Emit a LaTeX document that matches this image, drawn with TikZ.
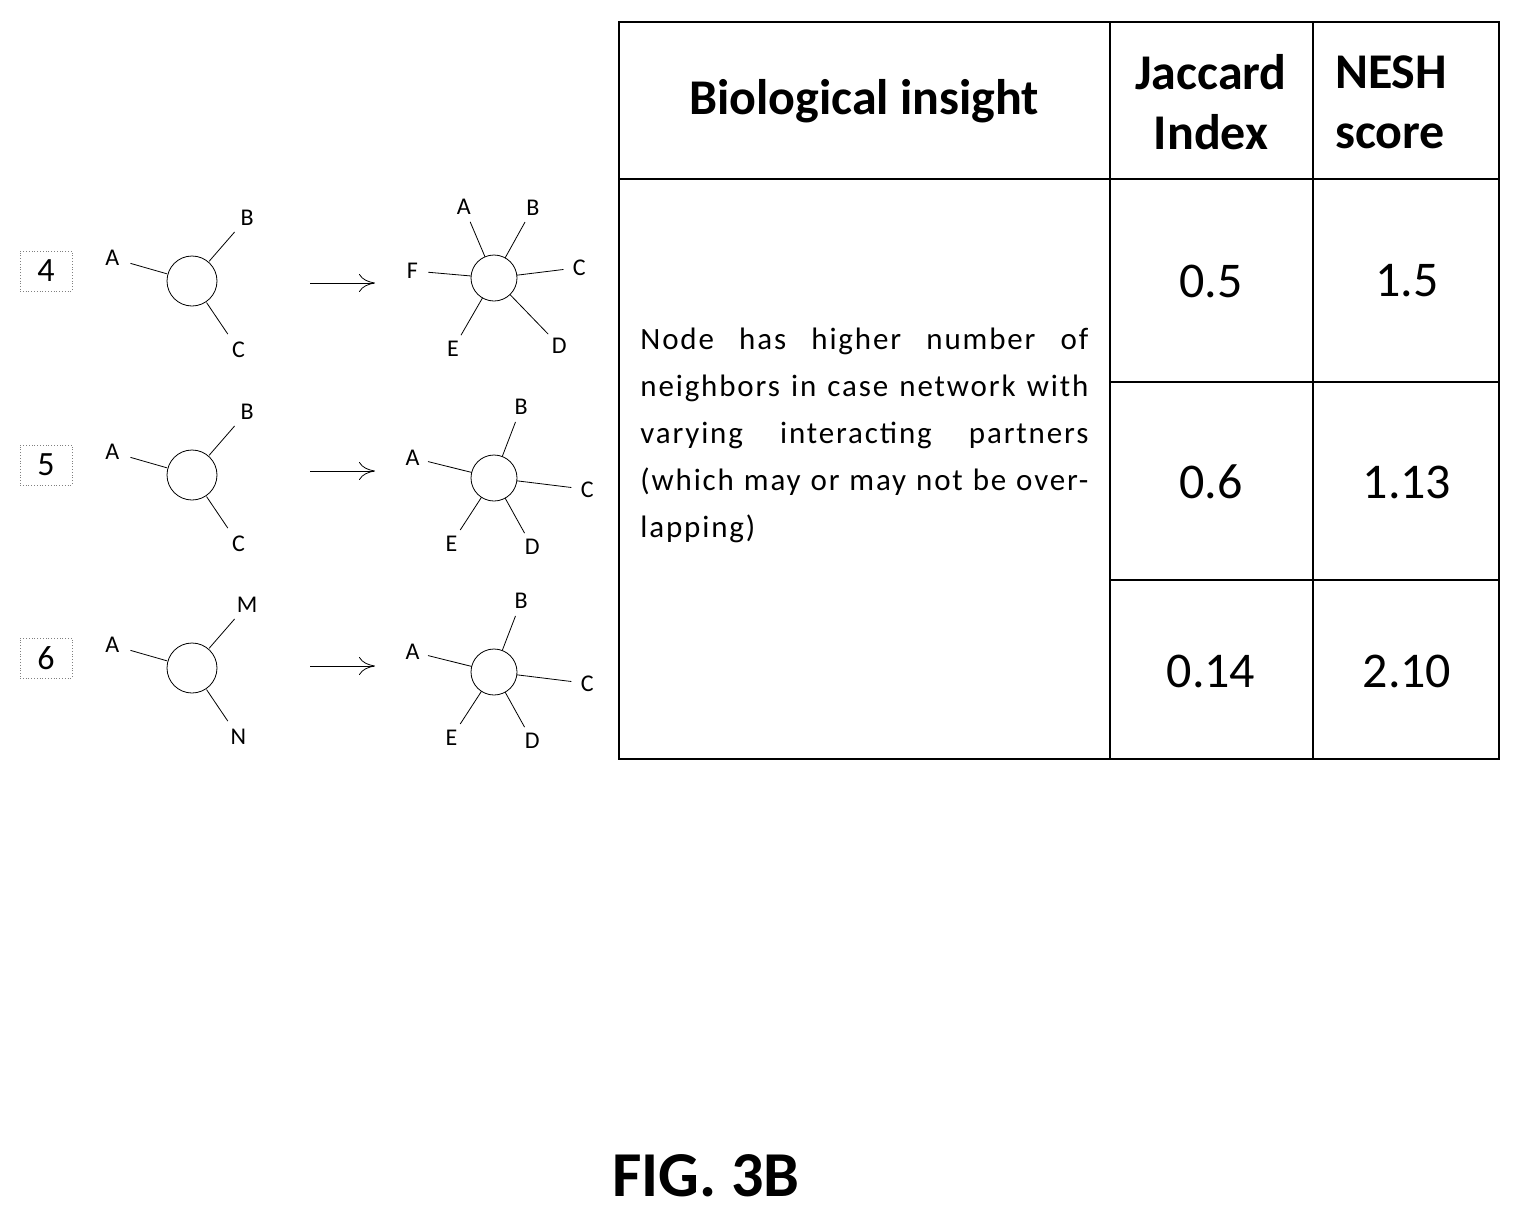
\documentclass[tikz,border=0pt]{standalone}
\usepackage{fontspec}
\setmainfont{Carlito}
\usepackage{tikz}
\usetikzlibrary{arrows.meta}

\begin{document}
\begin{tikzpicture}[x=0.5pt, y=-0.5pt,
    hub/.style={draw, circle, minimum size=25pt, inner sep=0pt},
    lbl/.style={font=\fontsize{12}{14}\selectfont},
    numbox/.style={draw=gray, densely dotted, minimum width=26pt, minimum height=20pt, font=\fontsize{17}{19}\selectfont},
    cell/.style={font=\fontsize{25}{28}\selectfont},
    hdr/.style={font=\bfseries\fontsize{25}{30}\selectfont}]
    \useasboundingbox (0,0) rectangle (1522,1216);
    % rows: number / y of left hub / y of right hub / y of arrow / outer labels
    \foreach \n/\yl/\yr/\ya/\ltrB/\ltrC in {4/281/278/283/B/C, 5/475/478/471/B/C, 6/668/672/666/M/N}{
        \node[numbox] (box\n) at (46,{\yl-10}) {\n};
        \node[hub] (left\n) at (192,\yl) {};
        \foreach \a/\r/\t in {-164/64/A, -49/65/\ltrB, 56/64/\ltrC}{
            \draw (left\n) ++(\a:26) -- ++(\a:{\r-26});
            \path (left\n) ++(\a:{\r+19}) node[lbl] {\t};
        }
        \coordinate (tail\n) at (310,\ya);
        \coordinate (head\n) at (375,\ya);
        \draw[-{To[length=8pt,width=9pt]}, thin] (tail\n) -- (head\n);
        \node[hub, minimum size=23pt] (right\n) at (494,\yr) {};
    }
    \foreach \a/\r/\t in {-113/61/A, -61/64/B, -7/70/C, 46/78/D, 120/66/E, -175/66/F}{
        \draw (right4) ++(\a:23) -- ++(\a:{\r-23});
        \path (right4) ++(\a:{\r+16}) node[lbl] {\t};
    }
    \foreach \row in {5,6}{
        \foreach \a/\r/\t in {-166/68/A, -69/60/B, 7/78/C, 61/63/D, 123/62/E}{
            \draw (right\row) ++(\a:23) -- ++(\a:{\r-23});
            \path (right\row) ++(\a:{\r+16}) node[lbl] {\t};
        }
    }
    % table
    \draw[thick] (619,22) rectangle (1499,759);
    \draw[thick] (1110,22) -- (1110,759);
    \draw[thick] (1313,22) -- (1313,759);
    \draw[thick] (619,179) -- (1499,179);
    \draw[thick] (1110,382) -- (1499,382);
    \draw[thick] (1110,580) -- (1499,580);
    \node[hdr] (insight) at (864,101) {Biological insight};
    \node[hdr, align=center] (jaccard) at (1211,102) {Jaccard\\Index};
    \node[hdr, align=left, anchor=west] (nesh) at (1328,102) {NESH\\score};
    \node[anchor=north west, inner sep=0pt, text width=224pt, align=justify,
          font=\fontsize{15.5}{23.5}\selectfont\addfontfeatures{LetterSpace=6}] (desc) at (640,328)
        {\hyphenpenalty=10000 Node has higher number of neighbors in case network with varying interacting partners (which may or may not be overlapping)};
    \foreach \y/\j/\s in {281/0.5/1.5, 482/0.6/1.13, 671/0.14/2.10}{
        \node[cell] at (1211,\y) {\j};
        \node[cell] at (1407,\y) {\s};
    }
    \node[font=\bfseries\fontsize{32}{36}\selectfont] (fig) at (706,1176) {FIG. 3B};
\end{tikzpicture}
\end{document}
